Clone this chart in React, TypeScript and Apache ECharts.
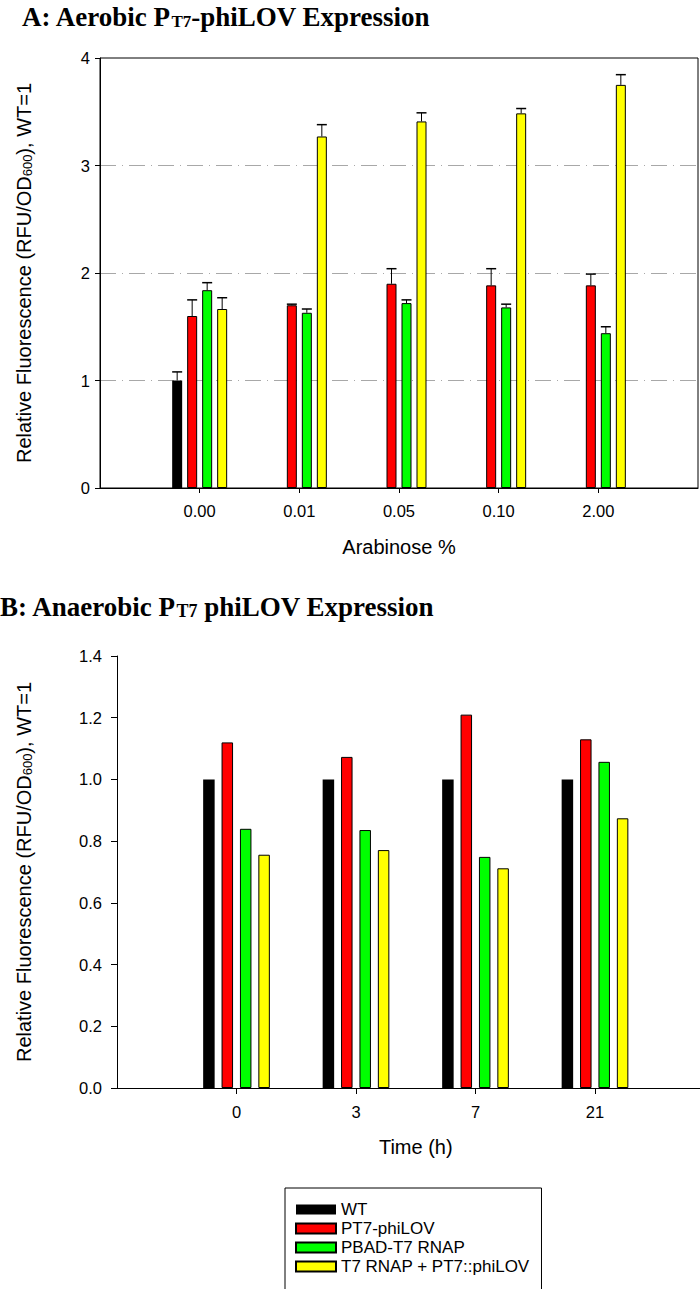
import React, { useEffect, useRef } from "react";
import * as echarts from "echarts";

// ---------- Data ----------
const seriesNames = ["WT", "PT7-phiLOV", "PBAD-T7 RNAP", "T7 RNAP + PT7::phiLOV"];
const seriesColors = ["#000000", "#ff0000", "#00ff00", "#ffff00"];

// Chart A (aerobic)
const arabinose = ["0.00", "0.01", "0.05", "0.10", "2.00"];
const aWT = [1.0, null, null, null, null];
const aPT7 = [1.6, 1.7, 1.9, 1.885, 1.885];
const aPBAD = [1.84, 1.63, 1.72, 1.68, 1.44];
const aT7 = [1.665, 3.27, 3.41, 3.485, 3.75];
// upper end of error bar
const aWTErr = [1.08, null, null, null, null];
const aPT7Err = [1.75, 1.71, 2.04, 2.04, 1.99];
const aPBADErr = [1.91, 1.665, 1.75, 1.71, 1.5];
const aT7Err = [1.77, 3.38, 3.49, 3.53, 3.845];
const aYTicks = { min: 0, max: 4, interval: 1 };

// Chart B (anaerobic)
const timeH = ["0", "3", "7", "21"];
const bWT = [1.0, 1.0, 1.0, 1.0];
const bPT7 = [1.12, 1.073, 1.21, 1.13];
const bPBAD = [0.84, 0.836, 0.749, 1.057];
const bT7 = [0.756, 0.771, 0.712, 0.874];
const bYTicks = { min: 0, max: 1.4, interval: 0.2 };

const pad = (arr: any[]) => [null, ...arr, null];
const padCat = (arr: string[]) => ["", ...arr, ""];

const SANS = "'Liberation Sans', Arial, sans-serif";
const SERIF = "'Liberation Serif', 'Times New Roman', serif";

export default function App() {
  const ref = useRef<HTMLDivElement>(null);
  useEffect(() => {
    if (!ref.current) return;
    const chart = echarts.init(ref.current, undefined, { renderer: "svg" });

    const aVals = [aWT, aPT7, aPBAD, aT7];
    const aErrs = [aWTErr, aPT7Err, aPBADErr, aT7Err];
    const bVals = [bWT, bPT7, bPBAD, bT7];

    const A_STEP = 15;
    const barSeriesA = aVals.map((vals, i) => ({
      name: seriesNames[i],
      type: "bar",
      xAxisIndex: 0,
      yAxisIndex: 0,
      data: pad(vals),
      barWidth: 10,
      barGap: "50%",
      itemStyle: {
        color: seriesColors[i],
        borderColor: "#000",
        borderWidth: i === 0 ? 0 : 1,
      },
    }));

    const errSeriesA = aErrs.map((errs, i) => {
      const offset = (i - 1.5) * A_STEP;
      const data: any[] = [];
      errs.forEach((e, k) => {
        if (e != null && aVals[i][k] != null) data.push([k + 1, aVals[i][k], e]);
      });
      return {
        type: "custom",
        xAxisIndex: 0,
        yAxisIndex: 0,
        z: 5,
        clip: false,
        encode: { x: 0, y: [1, 2] },
        data,
        renderItem: (params: any, api: any) => {
          const ci = api.value(0);
          const base = api.coord([ci, api.value(1)]);
          const top = api.coord([ci, api.value(2)]);
          const x = base[0] + offset;
          return {
            type: "group",
            children: [
              { type: "line", shape: { x1: x, y1: base[1], x2: x, y2: top[1] }, style: { stroke: "#000", lineWidth: 1 } },
              { type: "line", shape: { x1: x - 5, y1: top[1], x2: x + 5, y2: top[1] }, style: { stroke: "#000", lineWidth: 1.5 } },
            ],
          };
        },
      };
    });

    const barSeriesB = bVals.map((vals, i) => ({
      name: seriesNames[i],
      type: "bar",
      xAxisIndex: 1,
      yAxisIndex: 1,
      data: pad(vals),
      barWidth: 11.5,
      barGap: "60%",
      itemStyle: {
        color: seriesColors[i],
        borderColor: "#000",
        borderWidth: i === 0 ? 0 : 1,
      },
    }));

    const yNameRich = {
      a: { fontSize: 20, fontFamily: SANS, color: "#000", lineHeight: 24, verticalAlign: "bottom" },
      s: { fontSize: 13, fontFamily: SANS, color: "#000", lineHeight: 12, verticalAlign: "bottom" },
    };
    const yName = "{a|Relative Fluorescence (RFU/OD}{s|600}{a|), WT=1}";

    const tickInterval = (n: number) => (i: number) => i > 0 && i < n - 1;
    const TICK_FONT = 16.5;

    chart.setOption({
      animation: false,
      backgroundColor: "#fff",
      grid: [
        { left: 100, top: 58, width: 598, height: 430, show: true, borderColor: "#000", borderWidth: 1, backgroundColor: "transparent" },
        { left: 117, top: 656, width: 597.5, height: 432, show: false },
      ],
      xAxis: [
        {
          gridIndex: 0,
          type: "category",
          data: padCat(arabinose),
          boundaryGap: false,
          axisLine: { lineStyle: { color: "#000", width: 1 } },
          axisTick: { show: true, length: 5, interval: tickInterval(7), lineStyle: { color: "#000" } },
          axisLabel: { color: "#000", fontSize: TICK_FONT, fontFamily: SANS, margin: 14, interval: 0 },
          splitLine: { show: false },
          name: "Arabinose %",
          nameLocation: "middle",
          nameGap: 49,
          nameTextStyle: { color: "#000", fontSize: 20, fontFamily: SANS },
        },
        {
          gridIndex: 1,
          type: "category",
          data: padCat(timeH),
          boundaryGap: false,
          axisLine: { lineStyle: { color: "#000", width: 1 } },
          axisTick: { show: true, length: 6, interval: tickInterval(6), lineStyle: { color: "#000" } },
          axisLabel: { color: "#000", fontSize: TICK_FONT, fontFamily: SANS, margin: 15, interval: 0 },
          splitLine: { show: false },
          name: "Time (h)",
          nameLocation: "middle",
          nameGap: 49,
          nameTextStyle: { color: "#000", fontSize: 20, fontFamily: SANS },
        },
      ],
      yAxis: [
        {
          gridIndex: 0,
          type: "value",
          min: aYTicks.min,
          max: aYTicks.max,
          interval: aYTicks.interval,
          axisLine: { show: true, lineStyle: { color: "#000", width: 1 } },
          axisTick: { show: true, length: 5, lineStyle: { color: "#000" } },
          axisLabel: { color: "#000", fontSize: TICK_FONT, fontFamily: SANS, margin: 10 },
          splitLine: {
            show: true,
            lineStyle: { color: ["transparent", "#a8a8a8", "#a8a8a8", "#a8a8a8", "transparent"], type: [16, 6, 1, 6], width: 1 },
          },
          name: yName,
          nameLocation: "middle",
          nameGap: 66,
          nameRotate: 90,
          nameTextStyle: { rich: yNameRich },
        },
        {
          gridIndex: 1,
          type: "value",
          min: bYTicks.min,
          max: bYTicks.max,
          interval: bYTicks.interval,
          axisLine: { show: true, lineStyle: { color: "#000", width: 1 } },
          axisTick: { show: true, length: 6, lineStyle: { color: "#000" } },
          axisLabel: { color: "#000", fontSize: TICK_FONT, fontFamily: SANS, margin: 15, formatter: (v: number) => v.toFixed(1) },
          splitLine: { show: false },
          name: yName,
          nameLocation: "middle",
          nameGap: 83,
          nameRotate: 90,
          nameTextStyle: { rich: yNameRich },
        },
      ],
      legend: {
        data: seriesNames,
        orient: "vertical",
        left: 285,
        top: 1188,
        padding: [13, 12, 40, 10],
        itemWidth: 40,
        itemHeight: 10,
        itemGap: 2,
        icon: "rect",
        backgroundColor: "#fff",
        borderColor: "#000",
        borderWidth: 1,
        borderRadius: 0,
        selectedMode: false,
        textStyle: { color: "#000", fontSize: 17, fontFamily: SANS },
      },
      graphic: [
        {
          type: "text",
          left: 22,
          top: 3,
          style: {
            text: "{b|A: Aerobic P}{s|T7}{b|-phiLOV Expression}",
            rich: {
              b: { fontSize: 27, fontWeight: "bold", fontFamily: SERIF, fill: "#000", lineHeight: 32, verticalAlign: "bottom" },
              s: { fontSize: 17, fontWeight: "bold", fontFamily: SERIF, fill: "#000", lineHeight: 14, verticalAlign: "bottom" },
            },
          },
        },
        {
          type: "text",
          left: 0,
          top: 593,
          style: {
            text: "{b|B: Anaerobic P}{s|T7}{b| phiLOV Expression}",
            rich: {
              b: { fontSize: 27, fontWeight: "bold", fontFamily: SERIF, fill: "#000", lineHeight: 32, verticalAlign: "bottom" },
              s: { fontSize: 18, fontWeight: "bold", fontFamily: SERIF, fill: "#000", lineHeight: 24, verticalAlign: "bottom" },
            },
          },
        },
      ],
      series: [...barSeriesA, ...errSeriesA, ...barSeriesB],
    });

    return () => chart.dispose();
  }, []);

  return (
    <div style={{ position: "absolute", left: 0, top: 0, width: 700, height: 1289, overflow: "hidden" }}>
      <div ref={ref} style={{ width: 730, height: 1340 }} />
    </div>
  );
}
